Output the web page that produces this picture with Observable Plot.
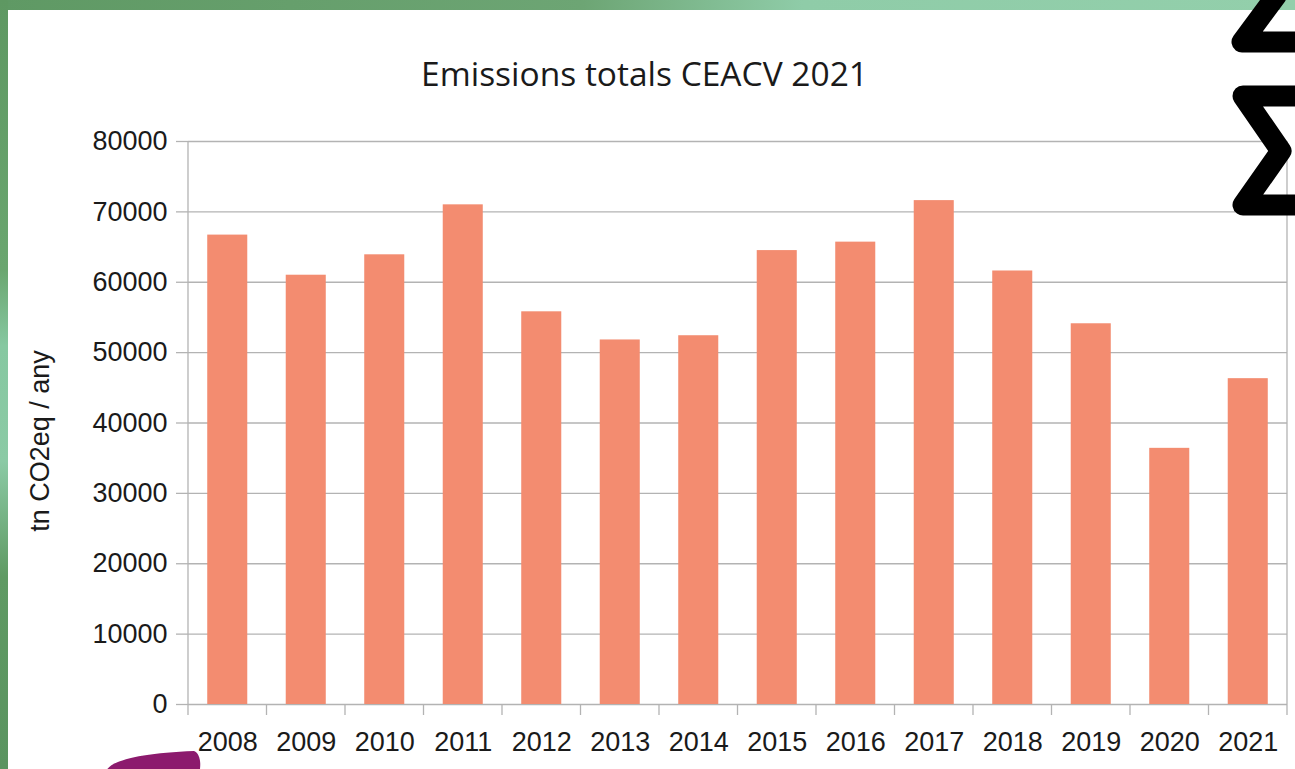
<!DOCTYPE html>
<html>
<head>
<meta charset="utf-8">
<script src="https://cdn.jsdelivr.net/npm/d3@7"></script>
<script src="https://cdn.jsdelivr.net/npm/@observablehq/plot@0.6"></script>
<style>
  html, body { margin: 0; padding: 0; width: 1295px; height: 769px; overflow: hidden; }
  body {
    background: linear-gradient(90deg, #5f9964 0%, #6da574 45%, #8fcca8 62%, #93cfab 100%);
    position: relative;
  }
  #leftstrip {
    position: absolute; left: 0; top: 0; width: 8px; height: 769px;
    background: linear-gradient(180deg, #5e9862 0%, #6aa66f 35%, #86c8a1 45%, #8bcaa5 60%, #5f9a63 75%, #5a9460 100%);
  }
  #panel {
    position: absolute; left: 8px; top: 10px; width: 1287px; height: 759px; background: #ffffff;
  }
  #chart { position: absolute; left: 0; top: 0; width: 1295px; height: 769px; }
  #title {
    position: absolute; left: 0; top: 0; width: 1295px; height: 110px;
    font-family: "Open Sans", sans-serif; font-size: 33.5px; color: #1a1a1a;
    text-align: center; line-height: 1; box-sizing: border-box; padding-top: 57px; padding-right: 6px;
  }
  #plotwrap { position: absolute; left: 0; top: 110px; }
  #deco { position: absolute; left: 0; top: 0; pointer-events: none; }
</style>
</head>
<body>
<div id="leftstrip"></div>
<div id="panel"></div>
<div id="chart">
  <div id="title">Emissions totals CEACV 2021</div>
  <div id="plotwrap"></div>
</div>
<svg id="deco" width="1295" height="769" viewBox="0 0 1295 769">
  <path d="M1276,-4 L1242,42 L1300,42" fill="none" stroke="#000" stroke-width="21" stroke-linejoin="round" stroke-linecap="round"/>
  <path d="M1300,96 L1243,96 L1281,151 L1243,205 L1300,205" fill="none" stroke="#000" stroke-width="21" stroke-linejoin="round" stroke-linecap="round"/>
  <path d="M106,772 C108,761 140,753 194,751 C199,753 201,760 200,769 Z" fill="#8c1a6d"/>
</svg>
<script>
const years = ["2008","2009","2010","2011","2012","2013","2014","2015","2016","2017","2018","2019","2020","2021"];
const emissions = [66700, 61000, 63900, 71000, 55800, 51800, 52400, 64500, 65700, 71600, 61600, 54100, 36400, 46300];
const yTicks = [0, 10000, 20000, 30000, 40000, 50000, 60000, 70000, 80000];
const yLabel = "tn CO2eq / any";

const data = years.map((year, i) => ({year, value: emissions[i]}));

const gridColor = "#b3b3b3";
const textColor = "#1a1a1a";

function frameMark(index, scales, values, dimensions) {
  const x = scales.x, y = scales.y;
  const g = d3.create("svg:g").attr("stroke", gridColor).attr("stroke-width", 1.3);
  const bw = x.bandwidth();
  const step = x.step();
  const y0 = y(0), yTop = y(yTicks[yTicks.length - 1]);
  const edges = years.map(yr => x(yr) - (step - bw) / 2);
  edges.push(x(years[years.length - 1]) + bw + (step - bw) / 2);
  edges.forEach((ex, i) => {
    const full = (i === 0 || i === edges.length - 1);
    g.append("line")
      .attr("x1", ex).attr("x2", ex)
      .attr("y1", full ? yTop : y0).attr("y2", y0 + 11);
  });
  return g.node();
}

const chart = Plot.plot({
  width: 1295,
  height: 659,
  marginLeft: 188,
  marginRight: 8,
  marginTop: 31,
  marginBottom: 65,
  style: {fontFamily: "'Liberation Sans', Arial, sans-serif", fontSize: "27px", color: textColor, background: "transparent", overflow: "visible"},
  x: {domain: years, paddingInner: 0.49, paddingOuter: 0.245, align: 0.5, round: false, label: null},
  y: {domain: [0, 80000], label: null},
  marks: [
    Plot.gridY(yTicks, {stroke: gridColor, strokeOpacity: 1, strokeWidth: 1.3}),
    Plot.barY(data, {x: "year", y: "value", fill: "#f38c70"}),
    frameMark,
    Plot.axisY(yTicks, {tickSize: 12, tickPadding: 9, stroke: gridColor, strokeWidth: 1.3, fill: textColor, tickFormat: d => String(d), label: null}),
    Plot.axisX({tickSize: 0, tickPadding: 27, fill: textColor, label: null}),
    Plot.text([yLabel], {frameAnchor: "left", text: d => d, rotate: -90, textAnchor: "middle", dx: -148, dy: 18, fontSize: 27, fill: textColor})
  ]
});
document.getElementById("plotwrap").appendChild(chart);
</script>
</body>
</html>
